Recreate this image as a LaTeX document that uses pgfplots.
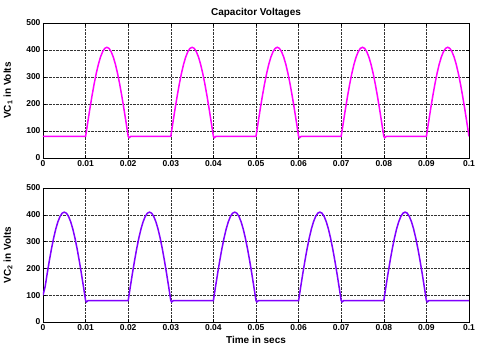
\documentclass[border=0pt]{standalone}
\usepackage{fontspec}
\setmainfont{Liberation Sans}
\usepackage{pgfplots}
\pgfplotsset{compat=1.18}
\definecolor{vcOne}{HTML}{FF00FF}
\definecolor{vcTwo}{HTML}{8000FF}
\pgfplotsset{
  every axis title shift=0pt,
  capv/.style={
    scale only axis, width=426pt,
    xmin=0, xmax=0.1, ymin=0, ymax=500,
    xtick={0,0.01,...,0.1}, ytick={0,100,...,500},
    xticklabels={0,0.01,0.02,0.03,0.04,0.05,0.06,0.07,0.08,0.09,0.1},
    grid=major, major grid style={densely dotted, black!80, line width=0.5pt},
    axis line style={black, line width=0.6pt}, tick style={black},
    tick align=inside, major tick length=3pt,
    /pgf/number format/assume math mode=true,
    tick label style={font=\fontsize{8.5}{9}\selectfont\bfseries},
    label style={font=\fontsize{10}{11}\selectfont\bfseries},
    xticklabel style={yshift=1pt}, yticklabel style={xshift=1pt},
    ylabel style={at={(axis description cs:-0.082,0.5)}, anchor=center},
    every axis plot/.append style={line width=1.5pt},
  },
}
\begin{document}
\begin{tikzpicture}
\useasboundingbox (-43pt,-189pt) rectangle (437pt,158pt);
\begin{axis}[capv, name=top, height=135pt, at={(0,0)}, anchor=south west,
    title={Capacitor Voltages},
    title style={font=\fontsize{10}{11}\selectfont\bfseries, at={(axis description cs:0.5,1)}, anchor=center, yshift=10pt},
    ylabel={VC\textsubscript{1} in Volts}]
\addplot[vcOne] coordinates {
 (0,80) (0.0100,80)
 (0.0105,131.6) (0.0110,182.0) (0.0115,229.8) (0.0120,274.0) (0.0125,313.3) (0.0130,347.0) (0.0135,374.0) (0.0140,393.8) (0.0145,406.0) (0.0150,410.0)
 (0.0155,406.0) (0.0160,393.8) (0.0165,374.0) (0.0170,347.0) (0.0175,313.3) (0.0180,274.0) (0.0185,229.8) (0.0190,182.0) (0.0195,131.6) (0.0200,80)
 (0.0202,75) (0.0206,80) (0.0300,80)
 (0.0305,131.6) (0.0310,182.0) (0.0315,229.8) (0.0320,274.0) (0.0325,313.3) (0.0330,347.0) (0.0335,374.0) (0.0340,393.8) (0.0345,406.0) (0.0350,410.0)
 (0.0355,406.0) (0.0360,393.8) (0.0365,374.0) (0.0370,347.0) (0.0375,313.3) (0.0380,274.0) (0.0385,229.8) (0.0390,182.0) (0.0395,131.6) (0.0400,80)
 (0.0402,75) (0.0406,80) (0.0500,80)
 (0.0505,131.6) (0.0510,182.0) (0.0515,229.8) (0.0520,274.0) (0.0525,313.3) (0.0530,347.0) (0.0535,374.0) (0.0540,393.8) (0.0545,406.0) (0.0550,410.0)
 (0.0555,406.0) (0.0560,393.8) (0.0565,374.0) (0.0570,347.0) (0.0575,313.3) (0.0580,274.0) (0.0585,229.8) (0.0590,182.0) (0.0595,131.6) (0.0600,80)
 (0.0602,75) (0.0606,80) (0.0700,80)
 (0.0705,131.6) (0.0710,182.0) (0.0715,229.8) (0.0720,274.0) (0.0725,313.3) (0.0730,347.0) (0.0735,374.0) (0.0740,393.8) (0.0745,406.0) (0.0750,410.0)
 (0.0755,406.0) (0.0760,393.8) (0.0765,374.0) (0.0770,347.0) (0.0775,313.3) (0.0780,274.0) (0.0785,229.8) (0.0790,182.0) (0.0795,131.6) (0.0800,80)
 (0.0802,75) (0.0806,80) (0.0900,80)
 (0.0905,131.6) (0.0910,182.0) (0.0915,229.8) (0.0920,274.0) (0.0925,313.3) (0.0930,347.0) (0.0935,374.0) (0.0940,393.8) (0.0945,406.0) (0.0950,410.0)
 (0.0955,406.0) (0.0960,393.8) (0.0965,374.0) (0.0970,347.0) (0.0975,313.3) (0.0980,274.0) (0.0985,229.8) (0.0990,182.0) (0.0995,131.6) (0.1000,80)
};
\end{axis}
\begin{axis}[capv, height=134pt, at={(top.south west)}, anchor=north west, yshift=-30pt,
    xlabel={Time in secs},
    xlabel style={at={(axis description cs:0.5,0)}, anchor=center, yshift=-18pt},
    ylabel={VC\textsubscript{2} in Volts}]
\addplot[vcTwo] coordinates {
 (0.0000,100) (0.0005,131.6) (0.0010,182.0) (0.0015,229.8) (0.0020,274.0) (0.0025,313.3) (0.0030,347.0) (0.0035,374.0) (0.0040,393.8) (0.0045,406.0) (0.0050,410.0)
 (0.0055,406.0) (0.0060,393.8) (0.0065,374.0) (0.0070,347.0) (0.0075,313.3) (0.0080,274.0) (0.0085,229.8) (0.0090,182.0) (0.0095,131.6) (0.0100,80)
 (0.0102,75) (0.0106,80) (0.0200,80)
 (0.0205,131.6) (0.0210,182.0) (0.0215,229.8) (0.0220,274.0) (0.0225,313.3) (0.0230,347.0) (0.0235,374.0) (0.0240,393.8) (0.0245,406.0) (0.0250,410.0)
 (0.0255,406.0) (0.0260,393.8) (0.0265,374.0) (0.0270,347.0) (0.0275,313.3) (0.0280,274.0) (0.0285,229.8) (0.0290,182.0) (0.0295,131.6) (0.0300,80)
 (0.0302,75) (0.0306,80) (0.0400,80)
 (0.0405,131.6) (0.0410,182.0) (0.0415,229.8) (0.0420,274.0) (0.0425,313.3) (0.0430,347.0) (0.0435,374.0) (0.0440,393.8) (0.0445,406.0) (0.0450,410.0)
 (0.0455,406.0) (0.0460,393.8) (0.0465,374.0) (0.0470,347.0) (0.0475,313.3) (0.0480,274.0) (0.0485,229.8) (0.0490,182.0) (0.0495,131.6) (0.0500,80)
 (0.0502,75) (0.0506,80) (0.0600,80)
 (0.0605,131.6) (0.0610,182.0) (0.0615,229.8) (0.0620,274.0) (0.0625,313.3) (0.0630,347.0) (0.0635,374.0) (0.0640,393.8) (0.0645,406.0) (0.0650,410.0)
 (0.0655,406.0) (0.0660,393.8) (0.0665,374.0) (0.0670,347.0) (0.0675,313.3) (0.0680,274.0) (0.0685,229.8) (0.0690,182.0) (0.0695,131.6) (0.0700,80)
 (0.0702,75) (0.0706,80) (0.0800,80)
 (0.0805,131.6) (0.0810,182.0) (0.0815,229.8) (0.0820,274.0) (0.0825,313.3) (0.0830,347.0) (0.0835,374.0) (0.0840,393.8) (0.0845,406.0) (0.0850,410.0)
 (0.0855,406.0) (0.0860,393.8) (0.0865,374.0) (0.0870,347.0) (0.0875,313.3) (0.0880,274.0) (0.0885,229.8) (0.0890,182.0) (0.0895,131.6) (0.0900,80)
 (0.0902,75) (0.0906,80) (0.1000,80)
};
\end{axis}
\end{tikzpicture}
\end{document}
